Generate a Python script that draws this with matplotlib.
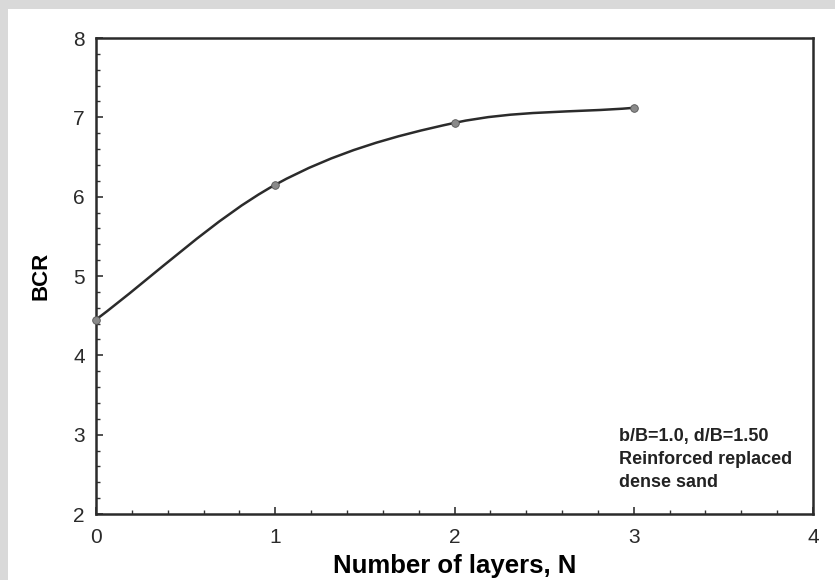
import numpy as np
import matplotlib
matplotlib.use("Agg")
import matplotlib.pyplot as plt
from matplotlib.path import Path
from matplotlib.patches import PathPatch, Rectangle
from matplotlib.ticker import MultipleLocator

plt.rcParams['font.family'] = ['Liberation Sans', 'DejaVu Sans']

# --- data ---
layers = [0, 1, 2, 3]
bcr = [4.45, 6.15, 6.93, 7.12]

x_ticks = [0, 1, 2, 3, 4]
y_ticks = [2, 3, 4, 5, 6, 7, 8]
note_lines = ["b/B=1.0, d/B=1.50", "Reinforced replaced", "dense sand"]


def smooth_path(xs, ys):
    # Catmull-Rom style cubic bezier through the points
    xs = np.asarray(xs, float)
    ys = np.asarray(ys, float)
    n = len(xs)
    tx = np.zeros(n)
    ty = np.zeros(n)
    for i in range(n):
        a = max(i - 1, 0)
        b = min(i + 1, n - 1)
        tx[i] = (xs[b] - xs[a]) / (b - a)
        ty[i] = (ys[b] - ys[a]) / (b - a)
    verts = [(xs[0], ys[0])]
    codes = [Path.MOVETO]
    for i in range(n - 1):
        verts.append((xs[i] + tx[i] / 3, ys[i] + ty[i] / 3))
        verts.append((xs[i + 1] - tx[i + 1] / 3, ys[i + 1] - ty[i + 1] / 3))
        verts.append((xs[i + 1], ys[i + 1]))
        codes += [Path.CURVE4] * 3
    return Path(verts, codes)


fig = plt.figure(figsize=(8.35, 5.8), dpi=100)
fig.patch.set_facecolor('white')
# grey scan borders top and left
fig.patches.append(Rectangle((0, 1 - 9 / 580), 1, 9 / 580, transform=fig.transFigure,
                             facecolor='#d9d9d9', edgecolor='none', zorder=0))
fig.patches.append(Rectangle((0, 0), 8 / 835, 1, transform=fig.transFigure,
                             facecolor='#d9d9d9', edgecolor='none', zorder=0))

ax = fig.add_axes([96 / 835, 1 - 514 / 580, (813 - 96) / 835, (514 - 38) / 580])

ax.add_patch(PathPatch(smooth_path(layers, bcr), facecolor='none',
                       edgecolor='#2b2b2b', lw=1.8, zorder=3))
ax.plot(layers, bcr, 'o', ms=5.5, mfc='#8a8a8a', mec='#555555', mew=0.6,
        zorder=4, clip_on=False)

ax.set_xlim(0, 4)
ax.set_ylim(2, 8)
ax.set_xticks(x_ticks)
ax.set_yticks(y_ticks)
ax.xaxis.set_minor_locator(MultipleLocator(0.2))
ax.yaxis.set_minor_locator(MultipleLocator(0.2))
ax.tick_params(which='both', direction='in', top=False, right=False,
               color='#333333', labelcolor='#2a2a2a', labelsize=15)
ax.tick_params(which='major', length=5, width=1.2)
ax.tick_params(which='minor', length=3, width=1.0)
ax.tick_params(axis='x', which='major', pad=10)
ax.tick_params(axis='y', which='major', pad=8)
for s in ax.spines.values():
    s.set_linewidth(1.8)
    s.set_color('#2b2b2b')

ax.set_xlabel("Number of layers, N", fontsize=18.5, fontweight='bold', labelpad=5)
ax.set_ylabel("BCR", fontsize=16, fontweight='bold', labelpad=16)

ax.text(2.918, 3.08, "\n".join(note_lines), fontsize=13, fontweight='bold',
        color='#222222', va='top', ha='left', linespacing=1.45)

fig.savefig("out.png", dpi=100)
